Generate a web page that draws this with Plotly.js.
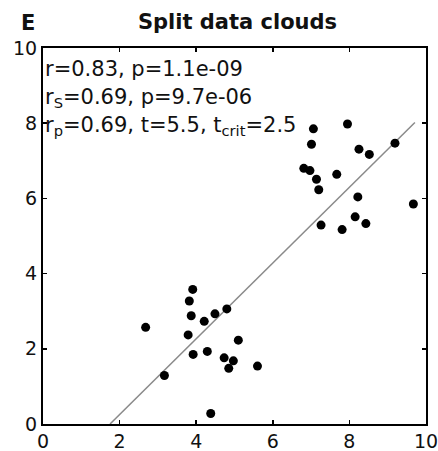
<!DOCTYPE html>
<html>
<head>
<meta charset="utf-8">
<script src="https://cdn.plot.ly/plotly-3.0.1.min.js"></script>
<style>html,body{margin:0;padding:0;background:#fff;}#chart{width:438px;height:451px;}</style>
</head>
<body>
<div id="chart"></div>
<script>
// Lower cloud + upper cloud
var xs = [2.68, 3.17, 3.91, 3.82, 3.87, 3.79, 3.92, 4.21, 4.49, 4.80, 4.29, 5.10, 4.73, 4.97, 4.85, 5.60, 4.38,
          7.06, 7.01, 7.95, 6.81, 6.97, 7.14, 7.20, 7.67, 8.25, 8.52, 9.19, 8.22, 9.67, 7.26, 7.81, 8.15, 8.43];
var ys = [2.57, 1.29, 3.58, 3.27, 2.88, 2.37, 1.85, 2.73, 2.93, 3.06, 1.93, 2.23, 1.76, 1.68, 1.48, 1.54, 0.28,
          7.85, 7.44, 7.98, 6.80, 6.74, 6.51, 6.23, 6.64, 7.31, 7.17, 7.47, 6.04, 5.85, 5.29, 5.17, 5.51, 5.33];
var fitX = [1.75, 9.71];
var fitY = [0.0, 8.02];
var tickVals = [0, 2, 4, 6, 8, 10];
var titleText = "Split data clouds";
var panelLabel = "E";
var statLines = [
  "r=0.83, p=1.1e-09",
  "r<sub>S</sub>=0.69, p=9.7e-06",
  "r<sub>p</sub>=0.69, t=5.5, t<sub>crit</sub>=2.5"
];

var FONT = "DejaVu Sans, sans-serif";
var W = 438, H = 451, ML = 43, MR = 12, MT = 48, MB = 27;
var PW = W - ML - MR, PH = H - MT - MB;
function px2paperX(px) { return (px - ML) / PW; }
function px2paperY(py) { return (H - MB - py) / PH; }

var traces = [
  {x: fitX, y: fitY, type: 'scatter', mode: 'lines',
   line: {color: '#8a8a8a', width: 1.5}, hoverinfo: 'skip', showlegend: false},
  {x: xs, y: ys, type: 'scatter', mode: 'markers',
   marker: {color: '#000', size: 9}, showlegend: false}
];

var axisCommon = {
  range: [0, 10], tickvals: tickVals, ticktext: tickVals.map(String),
  showgrid: false, zeroline: false, showline: true, linecolor: '#000', linewidth: 2,
  mirror: 'ticks', ticks: 'inside', ticklen: 4, tickwidth: 1.5, tickcolor: '#000',
  ticklabeloverflow: 'allow',
  tickfont: {family: FONT, size: 19, color: '#111'}, fixedrange: true
};

var annotations = [
  {xref: 'paper', yref: 'paper', x: px2paperX(27.5), y: px2paperY(22.5), xanchor: 'center', yanchor: 'middle',
   text: '<b>' + panelLabel + '</b>', showarrow: false, font: {family: FONT, size: 21, color: '#111'}}
];
var lineCenters = [68.5, 97.5, 126];
for (var i = 0; i < statLines.length; i++) {
  annotations.push({
    xref: 'paper', yref: 'paper', x: px2paperX(43), y: px2paperY(lineCenters[i]),
    xanchor: 'left', yanchor: 'middle', text: statLines[i], showarrow: false,
    font: {family: FONT, size: 21, color: '#111'}
  });
}

var layout = {
  width: W, height: H,
  margin: {l: ML, r: MR, t: MT, b: MB, pad: 0},
  paper_bgcolor: '#fff', plot_bgcolor: '#fff',
  title: {text: '<b>' + titleText + '</b>', xref: 'container', yref: 'container',
          x: 237.5/W, y: 1 - 22/H, xanchor: 'center', yanchor: 'middle',
          font: {family: FONT, size: 21, color: '#111'}},
  xaxis: Object.assign({}, axisCommon, {ticklabelstandoff: -1}),
  yaxis: Object.assign({}, axisCommon),
  annotations: annotations,
  showlegend: false
};

Plotly.newPlot('chart', traces, layout, {displayModeBar: false, staticPlot: true});
</script>
</body>
</html>
